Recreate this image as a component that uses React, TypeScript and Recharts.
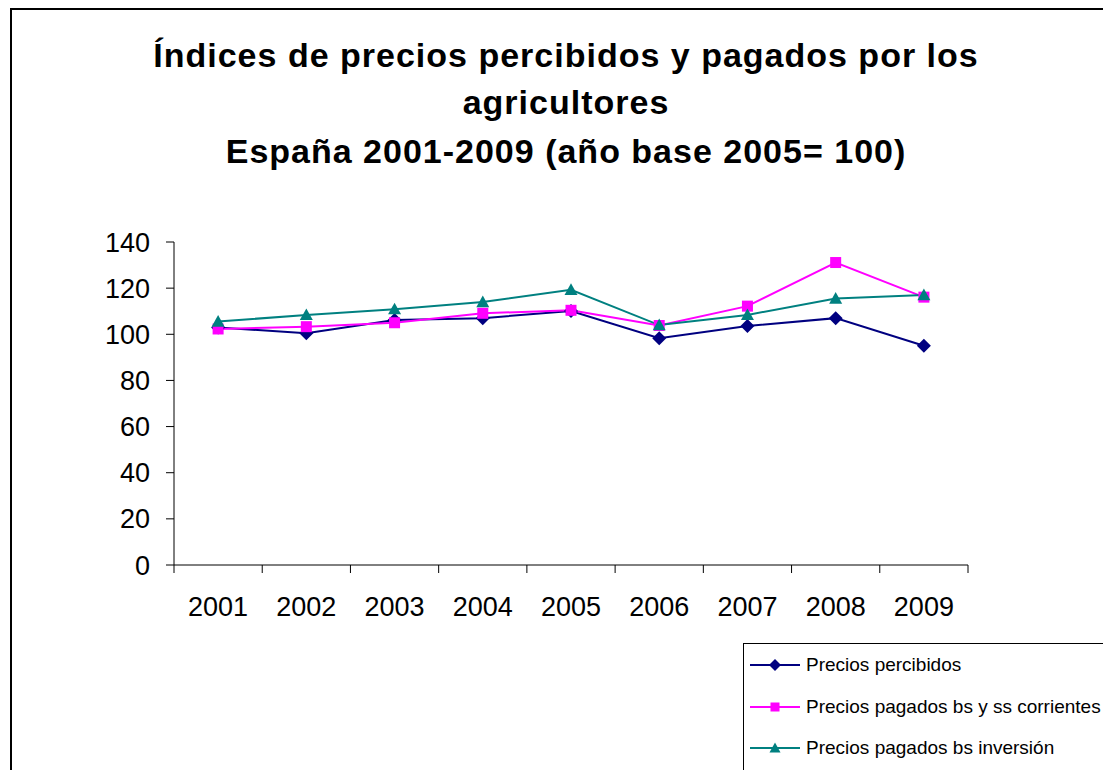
import React from 'react';
import { LineChart, Line, XAxis, YAxis } from 'recharts';

const years = ['2001', '2002', '2003', '2004', '2005', '2006', '2007', '2008', '2009'];
const preciosPercibidos = [102.9, 100.5, 106.2, 107, 110.1, 98.3, 103.6, 107, 95];
const preciosCorrientes = [102.3, 103.3, 105, 109.1, 110.4, 103.8, 112.2, 131.1, 116.1];
const preciosInversion = [105.5, 108.4, 110.9, 114, 119.3, 104, 108.4, 115.5, 117];
const yTicks = [0, 20, 40, 60, 80, 100, 120, 140];
const xBoundaries = [0, 1, 2, 3, 4, 5, 6, 7, 8, 9];

const FONT = '"Liberation Sans", Arial, sans-serif';

const SERIES = [
  { key: 'percibidos', name: 'Precios percibidos', color: '#000080', shape: 'diamond', size: 14 },
  { key: 'corrientes', name: 'Precios pagados bs y ss corrientes', color: '#FF00FF', shape: 'square', size: 11 },
  { key: 'inversion', name: 'Precios pagados bs inversión', color: '#008080', shape: 'triangle', size: 13 },
];

const data = years.map((year, i) => ({
  year,
  pos: i + 0.5,
  percibidos: preciosPercibidos[i],
  corrientes: preciosCorrientes[i],
  inversion: preciosInversion[i],
}));

const Marker = ({ shape, cx, cy, color, size }: any) => {
  const h = size / 2;
  if (shape === 'diamond') {
    return <polygon points={`${cx},${cy - h} ${cx + h},${cy} ${cx},${cy + h} ${cx - h},${cy}`} fill={color} />;
  }
  if (shape === 'square') {
    return <rect x={cx - h} y={cy - h} width={size} height={size} fill={color} />;
  }
  return <polygon points={`${cx},${cy - h} ${cx + h},${cy + h * 0.8} ${cx - h},${cy + h * 0.8}`} fill={color} />;
};

const LegendBox = () => (
  <div
    style={{
      position: 'absolute',
      left: 735,
      top: 635,
      border: '1px solid #000',
      width: 420,
      height: 200,
      boxSizing: 'border-box',
      fontFamily: FONT,
      fontSize: 19,
      color: '#000',
      background: '#fff',
    }}
  >
    {SERIES.map((s) => (
      <div key={s.key} style={{ display: 'flex', alignItems: 'center', height: 41.7 }}>
        <svg width={62} height={20} style={{ flex: 'none' }}>
          <line x1={6} x2={56} y1={10} y2={10} stroke={s.color} strokeWidth={2} />
          <Marker shape={s.shape} cx={31} cy={10} color={s.color} size={s.size - 2} />
        </svg>
        <span style={{ whiteSpace: 'nowrap' }}>{s.name}</span>
      </div>
    ))}
  </div>
);

const App = () => {
  return (
    <div style={{ position: 'relative', width: 1103, height: 762, overflow: 'hidden', background: '#fff' }}>
      <div
        style={{
          position: 'absolute',
          left: 2,
          top: 0,
          width: 1200,
          height: 900,
          border: '2px solid #000',
          boxSizing: 'border-box',
        }}
      />
      <svg
        width={1103}
        height={200}
        style={{ position: 'absolute', left: 0, top: 0, pointerEvents: 'none' }}
      >
        <g fontFamily={FONT} fontWeight="bold" fontSize={34} letterSpacing={1} textAnchor="middle" fill="#000">
          <text x={558} y={59}>Índices de precios percibidos y pagados por los</text>
          <text x={558} y={106}>agricultores</text>
          <text x={558} y={155}>España 2001-2009 (año base 2005= 100)</text>
        </g>
      </svg>
      <div style={{ position: 'absolute', left: 0, top: 0 }}>
        <LineChart
          width={1103}
          height={762}
          data={data}
          margin={{ top: 234, right: 143, bottom: 144, left: 0 }}
        >
          <YAxis
            type="number"
            domain={[0, 140]}
            ticks={yTicks}
            width={166}
            interval={0}
            tickSize={8}
            tickMargin={16}
            axisLine={{ stroke: '#000', strokeWidth: 1 }}
            tickLine={{ stroke: '#000' }}
            tick={{ fill: '#000', fontSize: 27, fontFamily: FONT }}
          />
          <XAxis
            xAxisId="a"
            dataKey="pos"
            type="number"
            domain={[0, 9]}
            ticks={xBoundaries}
            interval={0}
            height={1}
            tickSize={8}
            tickFormatter={() => ''}
            axisLine={{ stroke: '#000', strokeWidth: 1 }}
            tickLine={{ stroke: '#000' }}
          />
          <XAxis
            xAxisId="b"
            dataKey="year"
            type="category"
            scale="band"
            height={60}
            interval={0}
            tickSize={0}
            tickMargin={31}
            axisLine={false}
            tickLine={false}
            tick={{ fill: '#000', fontSize: 27, fontFamily: FONT }}
          />
          {SERIES.map((s) => (
            <Line
              key={s.key}
              xAxisId="a"
              dataKey={s.key}
              name={s.name}
              stroke={s.color}
              strokeWidth={2}
              isAnimationActive={false}
              dot={(props: any) => (
                <Marker key={`${s.key}-${props.index}`} shape={s.shape} cx={props.cx} cy={props.cy} color={s.color} size={s.size} />
              )}
              activeDot={false}
            />
          ))}
        </LineChart>
      </div>
      <LegendBox />
    </div>
  );
};

export default App;
